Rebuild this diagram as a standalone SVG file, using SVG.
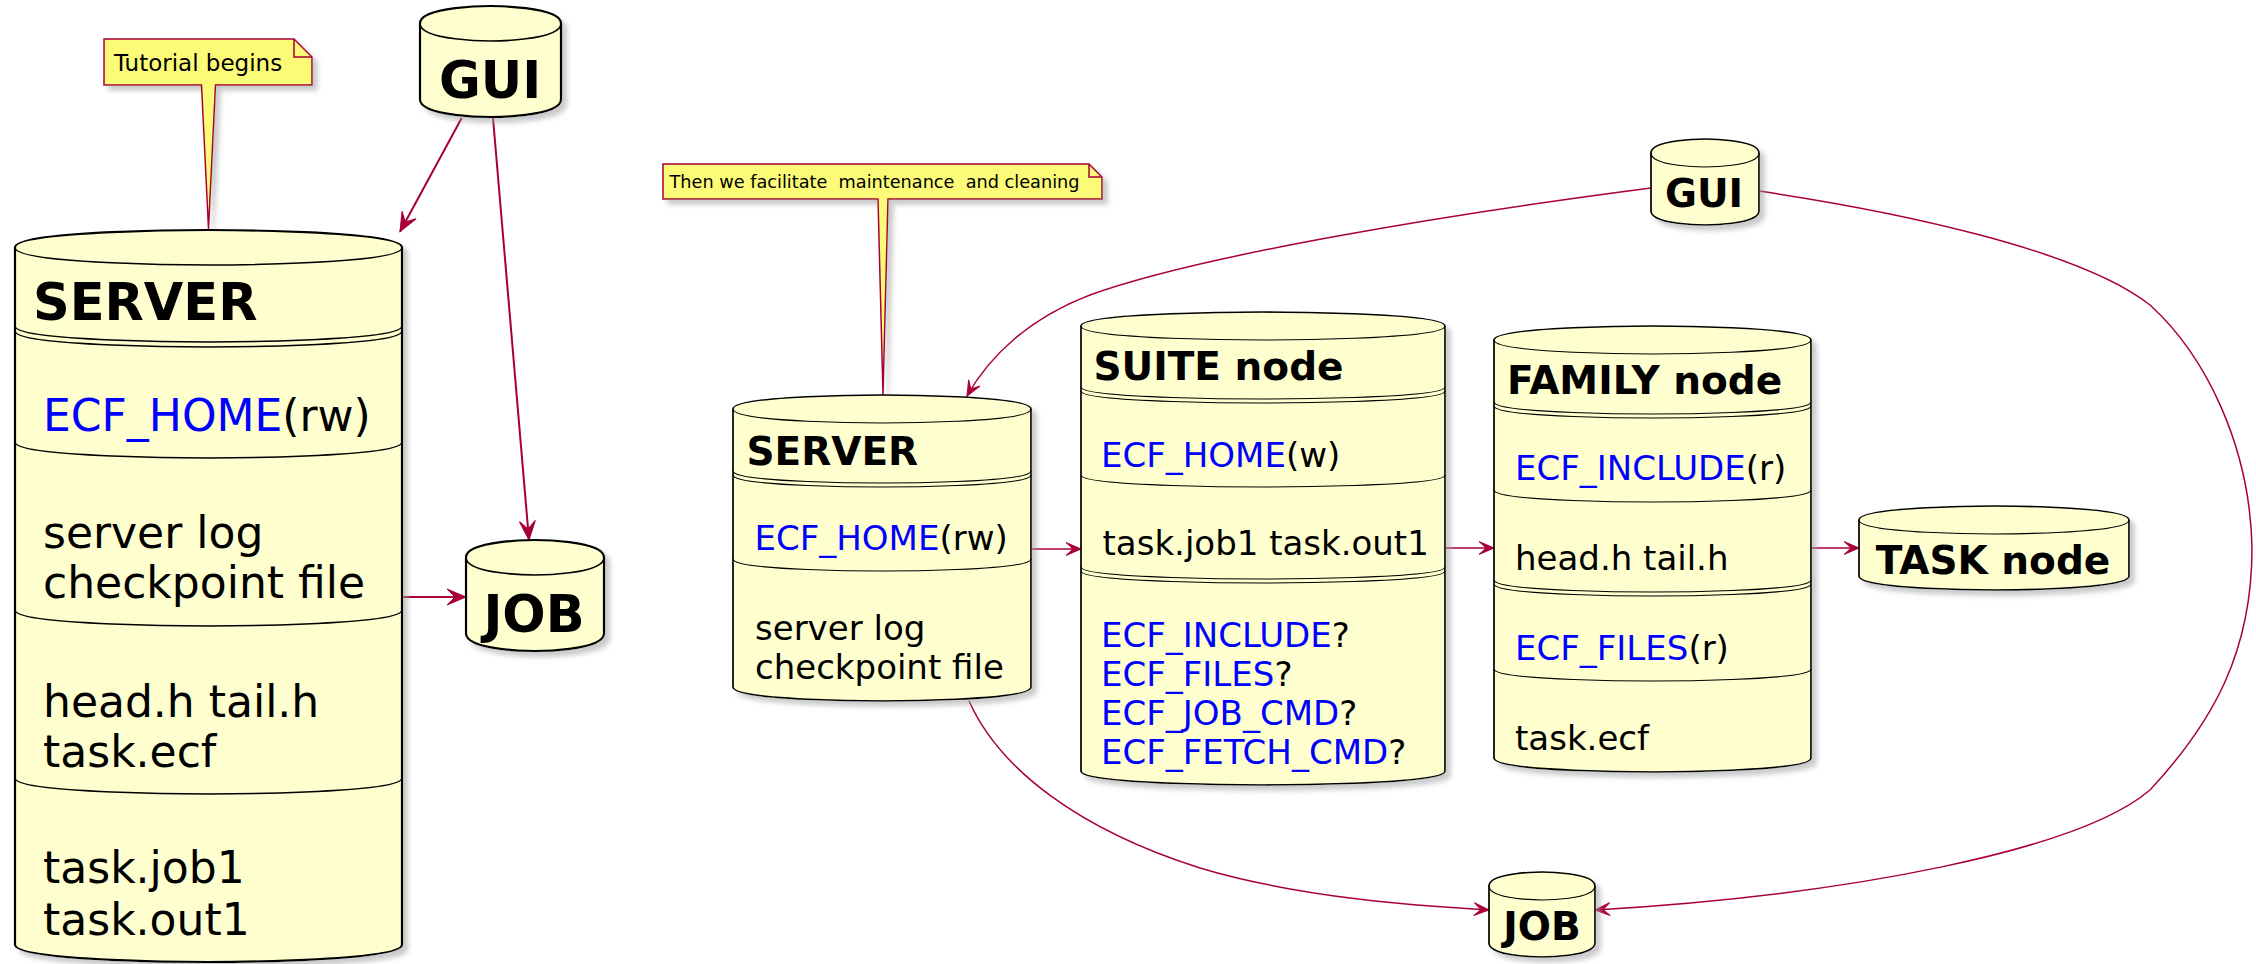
<svg xmlns="http://www.w3.org/2000/svg" width="2256" height="964" viewBox="0 0 2256 964">
  <defs>
    <style>
      .cyl { fill:#FEFECE; stroke:#000; }
      .wL { stroke-width:2.2; }
      .wR { stroke-width:1.7; }
      .ln { fill:none; stroke:#000; }
      .lnL { stroke-width:1.6; }
      .lnR { stroke-width:1.2; }
      .note { fill:#FBFB77; stroke:#A80036; stroke-width:1.5; }
      .fold { fill:none; stroke:#A80036; stroke-width:1.5; }
      .edge { fill:none; stroke:#A80036; }
      .eL { stroke-width:2; marker-end:url(#arrowL); }
      .eR { stroke-width:1.5; marker-end:url(#arrowR); }
      text { font-family:"DejaVu Sans", "Liberation Sans", sans-serif; fill:#000; }
      .b { font-weight:bold; }
      .v { fill:#0000FF; }
      .tL { font-size:51px; }
      .bL { font-size:44px; }
      .tR { font-size:39px; }
      .bR { font-size:34px; }
      .mid { text-anchor:middle; }
    </style>
    <filter id="shadow" x="-10%" y="-10%" width="130%" height="130%">
      <feGaussianBlur in="SourceAlpha" stdDeviation="2.5" result="blur"/>
      <feOffset in="blur" dx="5" dy="5" result="off"/>
      <feColorMatrix in="off" type="matrix" values="0 0 0 0 0.35  0 0 0 0 0.35  0 0 0 0 0.35  0 0 0 0.55 0" result="shade"/>
      <feMerge>
        <feMergeNode in="shade"/>
        <feMergeNode in="SourceGraphic"/>
      </feMerge>
    </filter>
    <marker id="arrowL" markerUnits="userSpaceOnUse" markerWidth="44" markerHeight="44" viewBox="-22 -22 44 44" refX="0" refY="0" orient="auto" overflow="visible">
      <path d="M0,0 L-19,-8 L-11,0 L-19,8 Z" fill="#A80036" stroke="#A80036" stroke-width="1"/>
    </marker>
    <marker id="arrowR" markerUnits="userSpaceOnUse" markerWidth="36" markerHeight="36" viewBox="-18 -18 36 36" refX="0" refY="0" orient="auto" overflow="visible">
      <path d="M0,0 L-15,-6.5 L-8,0 L-15,6.5 Z" fill="#A80036" stroke="#A80036" stroke-width="1"/>
    </marker>
  </defs>

  <rect width="2256" height="964" fill="#FFFFFF"/>

  <!-- connectors -->
  <g id="connectors">
    <path class="edge eL" d="M461.7,118 L400,231.7"/>
    <path class="edge eL" d="M493,118 L529,540"/>
    <path class="edge eL" d="M402,597 L466,597"/>

    <path class="edge eR" d="M1651,188 C1450,214 1200,255 1090,295 C1030,318 990,355 967,396"/>
    <path class="edge eR" d="M1031,549 L1081,549"/>
    <path class="edge eR" d="M1445,548 L1494,548"/>
    <path class="edge eR" d="M1811,548 L1859,548"/>
    <path class="edge eR" d="M969,701 C1000,770 1080,830 1200,868 C1300,898 1420,906 1489,910"/>
    <path class="edge eR" d="M1759,191 C1900,212 2080,250 2150,305 C2205,355 2250,445 2252,548 C2252,650 2215,720 2150,790 C2080,850 1850,895 1595,910"/>
  </g>

  <!-- first view: server overview -->
  <g id="note-tutorial">
    <path class="note" filter="url(#shadow)" d="M104,39 L294,39 L312,57 L312,85 L215.5,85 L208.5,229 L201.5,85 L104,85 Z"/>
    <path class="fold" d="M294,39 L294,57 L312,57"/>
    <text x="114" y="71" style="font-size:23px">Tutorial begins</text>
  </g>

  <g id="gui-1">
    <path class="cyl wL" filter="url(#shadow)" d="M420,23.5 C420,6 490.5,6 490.5,6 C490.5,6 561,6 561,23.5 L561,99.5 C561,117 490.5,117 490.5,117 C490.5,117 420,117 420,99.5 Z"/>
    <path class="ln lnL" d="M420,23.5 C420,41 490.5,41 490.5,41 C490.5,41 561,41 561,23.5"/>
    <text class="b tL mid" x="490" y="97.5">GUI</text>
  </g>

  <g id="job-1">
    <path class="cyl wL" filter="url(#shadow)" d="M466,557.5 C466,540 535,540 535,540 C535,540 604,540 604,557.5 L604,633.5 C604,651 535,651 535,651 C535,651 466,651 466,633.5 Z"/>
    <path class="ln lnL" d="M466,557.5 C466,575 535,575 535,575 C535,575 604,575 604,557.5"/>
    <text class="b tL mid" x="534" y="632">JOB</text>
  </g>

  <g id="server-1">
    <path class="cyl wL" filter="url(#shadow)" d="M15,247.5 C15,230 208.5,230 208.5,230 C208.5,230 402,230 402,247.5 L402,944.5 C402,962 208.5,962 208.5,962 C208.5,962 15,962 15,944.5 Z"/>
    <path class="ln lnL" d="M15,247.5 C15,265 208.5,265 208.5,265 C208.5,265 402,265 402,247.5"/>
    <path class="ln lnL" d="M15,326 C15,342 208.5,342 208.5,342 C208.5,342 402,342 402,326"/>
    <path class="ln lnL" d="M15,331 C15,347 208.5,347 208.5,347 C208.5,347 402,347 402,331"/>
    <path class="ln lnL" d="M15,442 C15,458 208.5,458 208.5,458 C208.5,458 402,458 402,442"/>
    <path class="ln lnL" d="M15,610 C15,626 208.5,626 208.5,626 C208.5,626 402,626 402,610"/>
    <path class="ln lnL" d="M15,778 C15,794 208.5,794 208.5,794 C208.5,794 402,794 402,778"/>
    <text class="b tL" x="33" y="320">SERVER</text>
    <text class="bL" x="43" y="431"><tspan class="v">ECF_HOME</tspan>(rw)</text>
    <text class="bL" x="43" y="548">server log</text>
    <text class="bL" x="43" y="598">checkpoint file</text>
    <text class="bL" x="43" y="717">head.h tail.h</text>
    <text class="bL" x="43" y="767">task.ecf</text>
    <text class="bL" x="43" y="883">task.job1</text>
    <text class="bL" x="43" y="935">task.out1</text>
  </g>

  <!-- second view: node hierarchy -->
  <g id="note-maintenance">
    <path class="note" filter="url(#shadow)" d="M663,164 L1089,164 L1102,177 L1102,199 L888,199 L883,395 L878,199 L663,199 Z"/>
    <path class="fold" d="M1089,164 L1089,177 L1102,177"/>
    <text x="669.5" y="188" xml:space="preserve" style="font-size:17.7px;white-space:pre">Then we facilitate  maintenance  and cleaning</text>
  </g>

  <g id="gui-2">
    <path class="cyl wR" filter="url(#shadow)" d="M1651,153 C1651,139 1705,139 1705,139 C1705,139 1759,139 1759,153 L1759,211 C1759,225 1705,225 1705,225 C1705,225 1651,225 1651,211 Z"/>
    <path class="ln lnR" d="M1651,153 C1651,167 1705,167 1705,167 C1705,167 1759,167 1759,153"/>
    <text class="b tR mid" x="1704" y="207">GUI</text>
  </g>

  <g id="server-2">
    <path class="cyl wR" filter="url(#shadow)" d="M733,409 C733,395 882,395 882,395 C882,395 1031,395 1031,409 L1031,687 C1031,701 882,701 882,701 C882,701 733,701 733,687 Z"/>
    <path class="ln lnR" d="M733,409 C733,423 882,423 882,423 C882,423 1031,423 1031,409"/>
    <path class="ln lnR" d="M733,471 C733,483 882,483 882,483 C882,483 1031,483 1031,471"/>
    <path class="ln lnR" d="M733,475 C733,487 882,487 882,487 C882,487 1031,487 1031,475"/>
    <path class="ln lnR" d="M733,559 C733,571 882,571 882,571 C882,571 1031,571 1031,559"/>
    <text class="b tR" x="746.5" y="465">SERVER</text>
    <text class="bR" x="754.5" y="550"><tspan class="v">ECF_HOME</tspan>(rw)</text>
    <text class="bR" x="755" y="640">server log</text>
    <text class="bR" x="755" y="679">checkpoint file</text>
  </g>

  <g id="suite-node">
    <path class="cyl wR" filter="url(#shadow)" d="M1081,326 C1081,312 1263,312 1263,312 C1263,312 1445,312 1445,326 L1445,771 C1445,785 1263,785 1263,785 C1263,785 1081,785 1081,771 Z"/>
    <path class="ln lnR" d="M1081,326 C1081,340 1263,340 1263,340 C1263,340 1445,340 1445,326"/>
    <path class="ln lnR" d="M1081,387 C1081,399 1263,399 1263,399 C1263,399 1445,399 1445,387"/>
    <path class="ln lnR" d="M1081,391 C1081,403 1263,403 1263,403 C1263,403 1445,403 1445,391"/>
    <path class="ln lnR" d="M1081,475 C1081,487 1263,487 1263,487 C1263,487 1445,487 1445,475"/>
    <path class="ln lnR" d="M1081,567 C1081,579 1263,579 1263,579 C1263,579 1445,579 1445,567"/>
    <path class="ln lnR" d="M1081,571 C1081,583 1263,583 1263,583 C1263,583 1445,583 1445,571"/>
    <text class="b tR" x="1093.5" y="380">SUITE node</text>
    <text class="bR" x="1101" y="467"><tspan class="v">ECF_HOME</tspan>(w)</text>
    <text class="bR" x="1102.5" y="555">task.job1 task.out1</text>
    <text class="bR" x="1101" y="647"><tspan class="v">ECF_INCLUDE</tspan>?</text>
    <text class="bR" x="1101" y="686"><tspan class="v">ECF_FILES</tspan>?</text>
    <text class="bR" x="1101" y="725"><tspan class="v">ECF_JOB_CMD</tspan>?</text>
    <text class="bR" x="1101" y="764"><tspan class="v">ECF_FETCH_CMD</tspan>?</text>
  </g>

  <g id="family-node">
    <path class="cyl wR" filter="url(#shadow)" d="M1494,340 C1494,326 1652.5,326 1652.5,326 C1652.5,326 1811,326 1811,340 L1811,758 C1811,772 1652.5,772 1652.5,772 C1652.5,772 1494,772 1494,758 Z"/>
    <path class="ln lnR" d="M1494,340 C1494,354 1652.5,354 1652.5,354 C1652.5,354 1811,354 1811,340"/>
    <path class="ln lnR" d="M1494,402 C1494,414 1652.5,414 1652.5,414 C1652.5,414 1811,414 1811,402"/>
    <path class="ln lnR" d="M1494,406 C1494,418 1652.5,418 1652.5,418 C1652.5,418 1811,418 1811,406"/>
    <path class="ln lnR" d="M1494,490 C1494,502 1652.5,502 1652.5,502 C1652.5,502 1811,502 1811,490"/>
    <path class="ln lnR" d="M1494,580 C1494,592 1652.5,592 1652.5,592 C1652.5,592 1811,592 1811,580"/>
    <path class="ln lnR" d="M1494,584 C1494,596 1652.5,596 1652.5,596 C1652.5,596 1811,596 1811,584"/>
    <path class="ln lnR" d="M1494,669 C1494,681 1652.5,681 1652.5,681 C1652.5,681 1811,681 1811,669"/>
    <text class="b tR" x="1507" y="394">FAMILY node</text>
    <text class="bR" x="1515" y="480"><tspan class="v">ECF_INCLUDE</tspan>(r)</text>
    <text class="bR" x="1515" y="570">head.h tail.h</text>
    <text class="bR" x="1515" y="660"><tspan class="v">ECF_FILES</tspan>(r)</text>
    <text class="bR" x="1515" y="750">task.ecf</text>
  </g>

  <g id="task-node">
    <path class="cyl wR" filter="url(#shadow)" d="M1859,520 C1859,506 1994,506 1994,506 C1994,506 2129,506 2129,520 L2129,576 C2129,590 1994,590 1994,590 C1994,590 1859,590 1859,576 Z"/>
    <path class="ln lnR" d="M1859,520 C1859,534 1994,534 1994,534 C1994,534 2129,534 2129,520"/>
    <text class="b tR mid" x="1993" y="574">TASK node</text>
  </g>

  <g id="job-2">
    <path class="cyl wR" filter="url(#shadow)" d="M1489,886 C1489,872 1542,872 1542,872 C1542,872 1595,872 1595,886 L1595,943 C1595,957 1542,957 1542,957 C1542,957 1489,957 1489,943 Z"/>
    <path class="ln lnR" d="M1489,886 C1489,900 1542,900 1542,900 C1542,900 1595,900 1595,886"/>
    <text class="b tR mid" x="1542" y="940">JOB</text>
  </g>
</svg>
